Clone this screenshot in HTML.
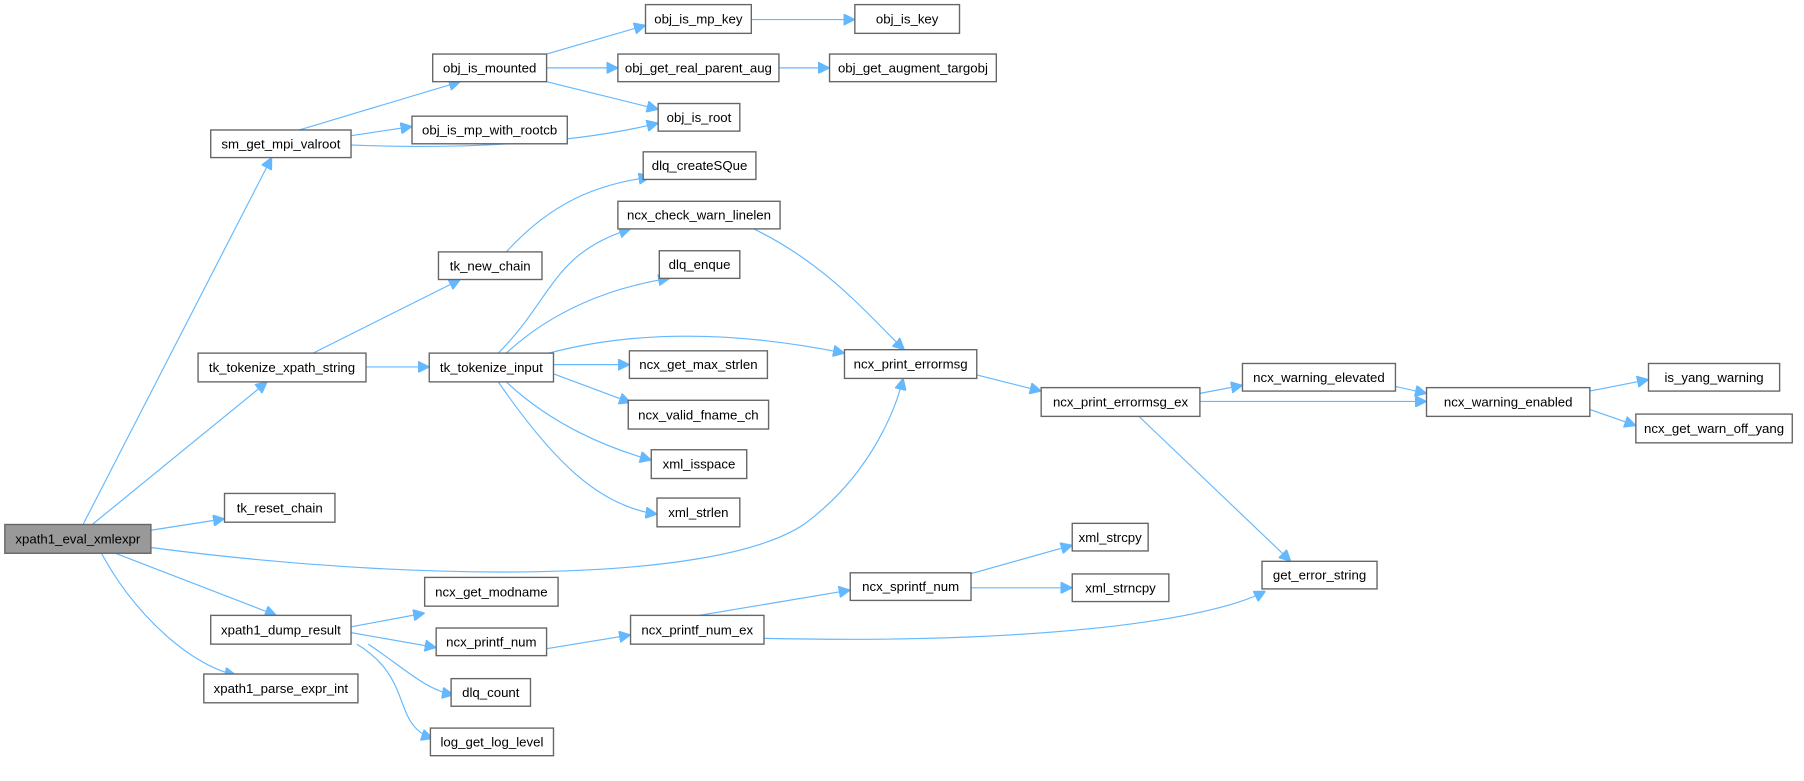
<!DOCTYPE html>
<html><head><meta charset="utf-8"><style>
html,body{margin:0;padding:0;background:#fff;}
svg{display:block;}
text{font-family:"Liberation Sans",Arial,sans-serif;font-size:11.5px;fill:#000;}
rect{fill:#fff;stroke:#666;stroke-width:1.2;}
path{fill:none;stroke:#63b8ff;stroke-width:1;}
</style></head><body>
<svg width="1804" height="781" viewBox="0 0 1568 679" xmlns="http://www.w3.org/2000/svg">
<defs><marker id="a" viewBox="0 0 10 10" refX="10" refY="5" markerWidth="10" markerHeight="10" markerUnits="userSpaceOnUse" orient="auto"><path d="M0,0L10,5L0,10z" style="fill:#63b8ff;stroke:#63b8ff"/></marker></defs>
<g marker-end="url(#a)">
<path d="M72,456L236,137"/>
<path d="M80,456L232,332"/>
<path d="M131,461L195,451"/>
<path d="M131,476C350,505 620,510 700,455C760,410 780,350 785,329"/>
<path d="M100,481L240,535"/>
<path d="M88,481C120,540 170,580 205,587"/>
<path d="M260,113L400,71"/>
<path d="M305,118L358,110"/>
<path d="M305,126C400,130 500,125 572,107"/>
<path d="M475,47L561,22"/>
<path d="M475,59L537,59"/>
<path d="M475,71L572,95"/>
<path d="M653,17L743,17"/>
<path d="M677,59L721,59"/>
<path d="M272,307L400,243"/>
<path d="M318,319L373,319"/>
<path d="M440,219C480,175 520,160 565,154"/>
<path d="M433,307C480,260 480,220 548,199"/>
<path d="M440,307C480,270 530,250 582,242"/>
<path d="M477,307C560,285 650,290 734,307"/>
<path d="M481,317L547,317"/>
<path d="M481,325L548,350"/>
<path d="M440,332C480,370 530,390 566,400"/>
<path d="M433,332C480,400 520,440 571,447"/>
<path d="M655,199C720,230 760,280 786,304"/>
<path d="M849,326L905,340"/>
<path d="M1043,342L1080,335"/>
<path d="M1043,349L1240,349"/>
<path d="M990,362L1122,488"/>
<path d="M1213,336L1240,342"/>
<path d="M1382,340L1433,330"/>
<path d="M1382,356L1422,370"/>
<path d="M305,545L369,533"/>
<path d="M305,550L379,563"/>
<path d="M320,560C350,580 370,600 394,604"/>
<path d="M310,560C360,590 340,630 376,642"/>
<path d="M475,564L548,552"/>
<path d="M608,535L739,513"/>
<path d="M664,555C900,560 1050,540 1100,514"/>
<path d="M843,499L932,474"/>
<path d="M844,511L932,511"/>
</g>
<g>
<rect x="4" y="456" width="127" height="25" style="fill:#999"/><text x="67.5" y="472.5" text-anchor="middle">xpath1_eval_xmlexpr</text>
<rect x="183" y="113" width="122" height="24"/><text x="244" y="129" text-anchor="middle">sm_get_mpi_valroot</text>
<rect x="172" y="307" width="146" height="25"/><text x="245" y="323.5" text-anchor="middle">tk_tokenize_xpath_string</text>
<rect x="195" y="429" width="96" height="25"/><text x="243" y="445.5" text-anchor="middle">tk_reset_chain</text>
<rect x="183" y="535" width="122" height="25"/><text x="244" y="551.5" text-anchor="middle">xpath1_dump_result</text>
<rect x="177" y="586" width="134" height="25"/><text x="244" y="602.5" text-anchor="middle">xpath1_parse_expr_int</text>
<rect x="376" y="47" width="99" height="24"/><text x="425.5" y="63" text-anchor="middle">obj_is_mounted</text>
<rect x="358" y="101" width="135" height="24"/><text x="425.5" y="117" text-anchor="middle">obj_is_mp_with_rootcb</text>
<rect x="381" y="219" width="90" height="24"/><text x="426" y="235" text-anchor="middle">tk_new_chain</text>
<rect x="373" y="307" width="108" height="25"/><text x="427" y="323.5" text-anchor="middle">tk_tokenize_input</text>
<rect x="369" y="502" width="116" height="25"/><text x="427" y="518.5" text-anchor="middle">ncx_get_modname</text>
<rect x="379" y="546" width="96" height="24"/><text x="427" y="562" text-anchor="middle">ncx_printf_num</text>
<rect x="392" y="590" width="69" height="24"/><text x="426.5" y="606" text-anchor="middle">dlq_count</text>
<rect x="374" y="633" width="107" height="24"/><text x="427.5" y="649" text-anchor="middle">log_get_log_level</text>
<rect x="561" y="4" width="92" height="25"/><text x="607" y="20.5" text-anchor="middle">obj_is_mp_key</text>
<rect x="537" y="47" width="140" height="24"/><text x="607" y="63" text-anchor="middle">obj_get_real_parent_aug</text>
<rect x="572" y="90" width="71" height="24"/><text x="607.5" y="106" text-anchor="middle">obj_is_root</text>
<rect x="559" y="132" width="98" height="24"/><text x="608" y="148" text-anchor="middle">dlq_createSQue</text>
<rect x="537" y="175" width="141" height="24"/><text x="607.5" y="191" text-anchor="middle">ncx_check_warn_linelen</text>
<rect x="573" y="218" width="70" height="24"/><text x="608" y="234" text-anchor="middle">dlq_enque</text>
<rect x="547" y="305" width="120" height="24"/><text x="607" y="321" text-anchor="middle">ncx_get_max_strlen</text>
<rect x="546" y="348" width="122" height="25"/><text x="607" y="364.5" text-anchor="middle">ncx_valid_fname_ch</text>
<rect x="566" y="391" width="83" height="25"/><text x="607.5" y="407.5" text-anchor="middle">xml_isspace</text>
<rect x="571" y="433" width="72" height="25"/><text x="607" y="449.5" text-anchor="middle">xml_strlen</text>
<rect x="548" y="535" width="116" height="25"/><text x="606" y="551.5" text-anchor="middle">ncx_printf_num_ex</text>
<rect x="743" y="4" width="91" height="25"/><text x="788.5" y="20.5" text-anchor="middle">obj_is_key</text>
<rect x="721" y="47" width="145" height="24"/><text x="793.5" y="63" text-anchor="middle">obj_get_augment_targobj</text>
<rect x="734" y="304" width="115" height="25"/><text x="791.5" y="320.5" text-anchor="middle">ncx_print_errormsg</text>
<rect x="739" y="498" width="105" height="24"/><text x="791.5" y="514" text-anchor="middle">ncx_sprintf_num</text>
<rect x="932" y="455" width="66" height="24"/><text x="965" y="471" text-anchor="middle">xml_strcpy</text>
<rect x="932" y="499" width="84" height="24"/><text x="974" y="515" text-anchor="middle">xml_strncpy</text>
<rect x="905" y="337" width="138" height="25"/><text x="974" y="353.5" text-anchor="middle">ncx_print_errormsg_ex</text>
<rect x="1080" y="316" width="133" height="24"/><text x="1146.5" y="332" text-anchor="middle">ncx_warning_elevated</text>
<rect x="1240" y="337" width="142" height="25"/><text x="1311" y="353.5" text-anchor="middle">ncx_warning_enabled</text>
<rect x="1097" y="488" width="100" height="24"/><text x="1147" y="504" text-anchor="middle">get_error_string</text>
<rect x="1433" y="316" width="114" height="24"/><text x="1490" y="332" text-anchor="middle">is_yang_warning</text>
<rect x="1422" y="360" width="136" height="25"/><text x="1490" y="376.5" text-anchor="middle">ncx_get_warn_off_yang</text>
</g>
</svg>
</body></html>
